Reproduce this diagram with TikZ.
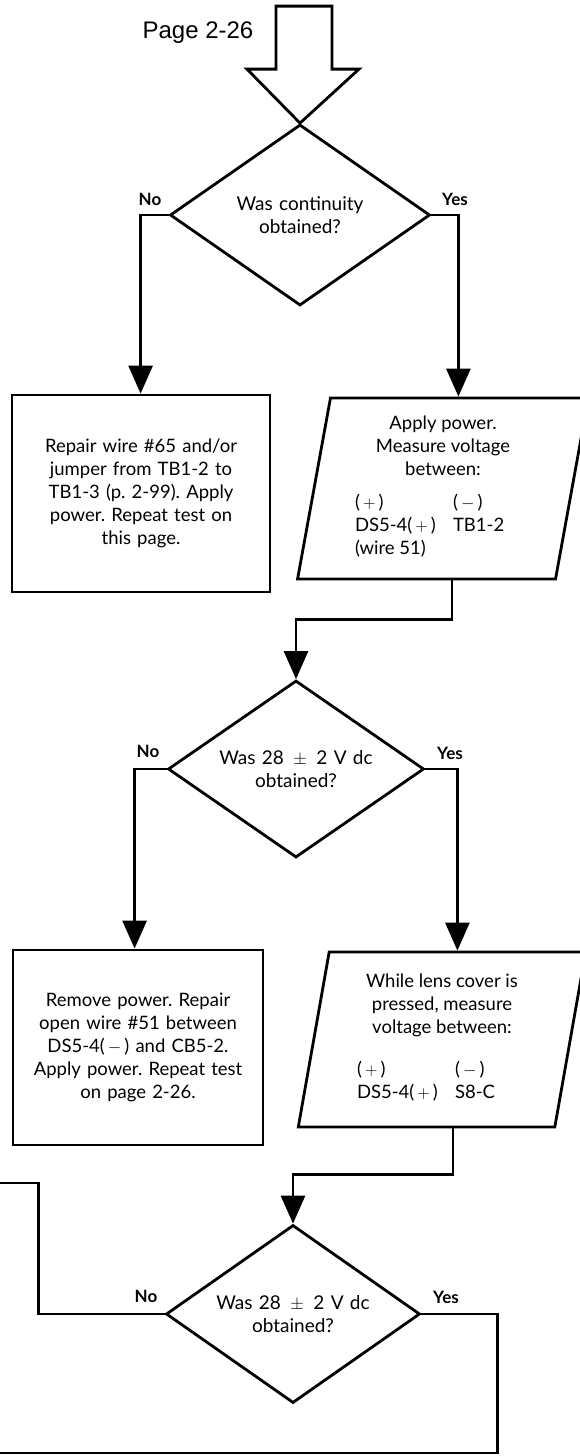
\documentclass[tikz,border=0pt]{standalone}
\usepackage{fontspec}
\setmainfont{Lato}
\newfontfamily\pagefont{Liberation Sans}
\usetikzlibrary{positioning, shapes.geometric, arrows.meta, calc}
\frenchspacing

\begin{document}
\begin{tikzpicture}[x=1pt, y=-1pt,
  decision/.style={diamond, draw, line width=2.8pt, inner sep=0pt, aspect=1.45,
                   text width=170pt, align=center,
                   font=\fontsize{19}{23}\selectfont},
  action/.style={rectangle, draw, line width=2.8pt, inner sep=0pt,
                 text width=240pt, align=center,
                 font=\fontsize{18.5}{23}\selectfont},
  measure/.style={trapezium, trapezium left angle=80, trapezium right angle=100,
                  trapezium stretches=true, draw, line width=2.8pt,
                  inner sep=0pt, align=center,
                  font=\fontsize{18.5}{23}\selectfont},
  answer/.style={font=\bfseries\fontsize{17}{20}\selectfont},
  line/.style={draw, line width=2.8pt, -{Triangle[width=24pt,length=28pt]}},
  wire/.style={draw, line width=2.8pt}
]
\useasboundingbox (0,0) rectangle (580,1456);
% Nodes
\node[font=\pagefont\fontsize{24}{28}\selectfont] (page) at (198,33) {Page 2-26};
\node[decision, minimum width=260pt, minimum height=181pt] (q1) at (300,215)
  {Was continuity\\ obtained?};
\node[action, minimum width=258pt, minimum height=197pt] (fix1) at (141,493.5)
  {Repair wire \#65 and/or\\ jumper from TB1-2 to\\ TB1-3 (p. 2-99). Apply\\
   power. Repeat test on\\ this page.};
\node[measure, minimum width=291pt, minimum height=181pt] (meas1) at (443,488.5)
  {Apply power.\\ Measure voltage\\ between:\\[16pt]
   \makebox[176pt][l]{\begin{tabular}{@{}p{98pt}@{}l@{}}
   (\,$+$\,) & (\,$-$\,)\\ DS5-4(\,$+$\,) & TB1-2\\ (wire 51) & \end{tabular}}};
\node[decision, minimum width=256pt, minimum height=177pt] (q2) at (296,769)
  {Was 28 \,$\pm$\, 2 V dc\\ obtained?};
\node[action, minimum width=250pt, minimum height=195pt] (fix2) at (138,1047.5)
  {Remove power. Repair\\ open wire \#51 between\\ DS5-4(\,$-$\,) and CB5-2.\\
   Apply power. Repeat test\\ on page 2-26.};
\node[measure, minimum width=288pt, minimum height=175pt] (meas2) at (442,1039.5)
  {While lens cover is\\ pressed, measure\\ voltage between:\\[22pt]
   \makebox[170pt][l]{\begin{tabular}{@{}p{98pt}@{}l@{}}
   (\,$+$\,) & (\,$-$\,)\\ DS5-4(\,$+$\,) & S8-C\end{tabular}}};
\node[decision, minimum width=254pt, minimum height=178pt] (q3) at (293,1314)
  {Was 28 \,$\pm$\, 2 V dc\\ obtained?};
\node[answer] (no1) at (150,199) {No};
\node[answer] (yes1) at (455,199) {Yes};
\node[answer] (no2) at (148,751) {No};
\node[answer] (yes2) at (450,753) {Yes};
\node[answer] (no3) at (146,1296) {No};
\node[answer] (yes3) at (446,1297) {Yes};
\coordinate (offno) at (-5,1183);
\coordinate (offyes) at (-5,1453);
% Entry arrow
\draw[line width=2.8pt, line join=miter] (q1.north) -- ++(-53,-54) -- ++(29,0)
  -- ++(0,-63) -- ++(56,0) -- ++(0,63) -- ++(27,0) -- cycle;
% Edges
\path[line] (q1.west) -- ++(-28,0) coordinate (n1) -- (n1 |- fix1.north);
\path[line] (q1.east) -- ++(27,0) coordinate (y1) -- (y1 |- meas1.north);
\path[line] ([xshift=9pt]meas1.south) -- ++(0,39) -| (q2.north);
\path[line] (q2.west) -- ++(-32,0) coordinate (n2) -- (n2 |- fix2.north);
\path[line] (q2.east) -- ++(32,0) coordinate (y2) -- (y2 |- meas2.north);
\path[line] ([xshift=11pt]meas2.south) -- ++(0,46) -| (q3.north);
\path[wire] (q3.west) -- ++(-126,0) |- (offno);
\path[wire] (q3.east) -- ++(76,0) |- (offyes);
\end{tikzpicture}
\end{document}
